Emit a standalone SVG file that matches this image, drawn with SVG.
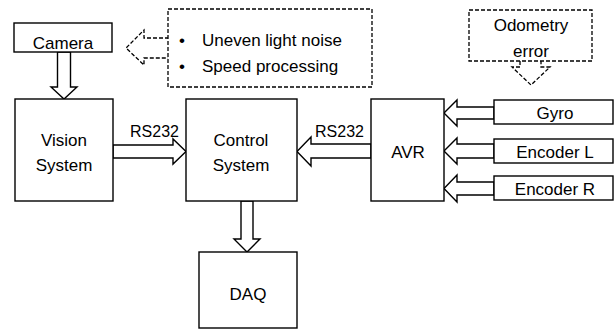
<svg xmlns="http://www.w3.org/2000/svg" width="614" height="329" viewBox="0 0 614 329">
<style>
.box{fill:#fff;stroke:#000;stroke-width:1.4}
.dash{fill:#fff;stroke:#000;stroke-width:1.3;stroke-dasharray:4 2}
.arr{fill:#fff;stroke:#000;stroke-width:1.4;stroke-linejoin:miter}
.darr{fill:#fff;stroke:#000;stroke-width:1.3;stroke-dasharray:4 2}
text{font-family:"Liberation Sans",Arial,sans-serif;font-size:17px;fill:#000}
.c{text-anchor:middle}
.rs{font-size:16px}
</style>
<rect width="614" height="329" fill="#fff"/>
<g id="connectors">
<polygon class="arr" points="57.5,52 70.5,52 70.5,87 77,87 64,99 51,87 57.5,87"/>
<polygon class="arr" points="113,145 173,145 173,139 186,151.5 173,164 173,158 113,158"/>
<polygon class="arr" points="371,144 311,144 311,137 297,151.5 311,166 311,158 371,158"/>
<polygon class="arr" points="494,107 457,107 457,100 444,113 457,126 457,119 494,119"/>
<polygon class="arr" points="494,144 457,144 457,138 444,151 457,164 457,158 494,158"/>
<polygon class="arr" points="494,182 457,182 457,175 444,188.5 457,202 457,195 494,195"/>
<polygon class="arr" points="241,201 253,201 253,239 260,239 247,252 234,239 241,239"/>
<polyline class="darr" points="169,38 144,38 144,30 126,48 144,65 144,58 169,58"/>
<polyline class="darr" points="520,61 520,67 512,67 531,85 550,67 541,67 541,61"/>
<text class="rs" x="130" y="137">RS232</text>
<text class="rs" x="315" y="137">RS232</text>
</g>
<g id="camera">
<rect class="box" x="14" y="23" width="98" height="29"/>
<text class="c" x="63" y="49">Camera</text>
</g>
<g id="noise">
<rect class="dash" x="168" y="9" width="204" height="78"/>
<text x="179" y="45.5">•<tspan x="202">Uneven light noise</tspan></text>
<text x="179" y="71.5">•<tspan x="202">Speed processing</tspan></text>
</g>
<g id="odometry">
<rect class="dash" x="469" y="10" width="123" height="51"/>
<text class="c" x="531" y="31">Odometry</text>
<text class="c" x="531" y="57">error</text>
</g>
<g id="vision">
<rect class="box" x="15" y="99" width="98" height="102"/>
<text class="c" x="64" y="146">Vision</text>
<text class="c" x="64" y="171">System</text>
</g>
<g id="control">
<rect class="box" x="186" y="99" width="111" height="102"/>
<text class="c" x="241" y="146">Control</text>
<text class="c" x="241" y="171">System</text>
</g>
<g id="avr">
<rect class="box" x="371" y="99" width="73" height="102"/>
<text class="c" x="408" y="158">AVR</text>
</g>
<g id="gyro">
<rect class="box" x="494" y="100" width="119" height="24"/>
<text class="c" x="555" y="119">Gyro</text>
</g>
<g id="encoderL">
<rect class="box" x="494" y="139" width="119" height="24"/>
<text class="c" x="555" y="158">Encoder L</text>
</g>
<g id="encoderR">
<rect class="box" x="494" y="176" width="119" height="24"/>
<text class="c" x="555" y="195">Encoder R</text>
</g>
<g id="daq">
<rect class="box" x="199" y="252" width="98" height="76"/>
<text class="c" x="248" y="300">DAQ</text>
</g>
</svg>
